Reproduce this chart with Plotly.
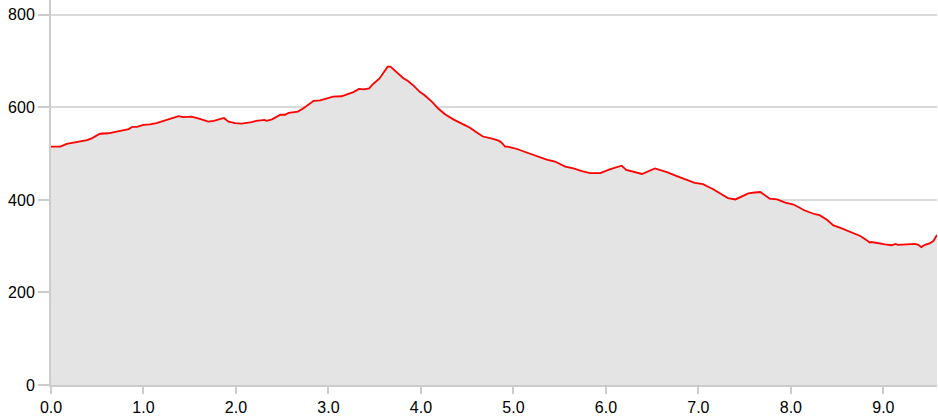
# Elevation profile: distance vs elevation, grey area with red outline

import plotly.graph_objects as go

# ============================================================
# Data
# ============================================================

distance = [
    0.00, 0.10, 0.17, 0.30, 0.39, 0.44, 0.53, 0.62, 0.67, 0.73,
    0.82, 0.84, 0.88, 0.93, 1.00, 1.07, 1.14, 1.21, 1.31, 1.38,
    1.43, 1.50, 1.52, 1.61, 1.70, 1.76, 1.81, 1.87, 1.92, 1.99,
    2.06, 2.13, 2.17, 2.22, 2.31, 2.33, 2.39, 2.48, 2.53, 2.57,
    2.62, 2.67, 2.73, 2.78, 2.84, 2.91, 2.96, 3.02, 3.05, 3.14,
    3.21, 3.27, 3.33, 3.38, 3.44, 3.48, 3.55, 3.59, 3.64, 3.67,
    3.74, 3.81, 3.86, 3.92, 3.99, 4.04, 4.12, 4.19, 4.26, 4.35,
    4.48, 4.53, 4.60, 4.67, 4.76, 4.84, 4.87, 4.91, 4.94, 5.04,
    5.12, 5.21, 5.27, 5.36, 5.45, 5.56, 5.65, 5.74, 5.83, 5.94,
    6.04, 6.17, 6.22, 6.30, 6.39, 6.53, 6.66, 6.76, 6.89, 6.96,
    7.05, 7.16, 7.25, 7.32, 7.40, 7.45, 7.54, 7.61, 7.67, 7.70,
    7.77, 7.85, 7.94, 8.03, 8.15, 8.26, 8.31, 8.39, 8.46, 8.53,
    8.64, 8.75, 8.82, 8.85, 8.87, 8.94, 9.02, 9.09, 9.13, 9.16,
    9.27, 9.34, 9.38, 9.41, 9.45, 9.50, 9.54, 9.58,
]

elevation = [
    515, 515, 521, 526, 529, 533, 543, 544, 546, 547,
    552, 553, 558, 558, 562, 563, 566, 570, 576, 581,
    579, 580, 580, 575, 569, 571, 573, 577, 569, 566,
    565, 566, 568, 571, 573, 571, 574, 584, 584, 588,
    589, 591, 598, 605, 614, 615, 618, 622, 623, 624,
    628, 633, 640, 639, 641, 650, 662, 674, 688, 688,
    676, 663, 657, 647, 633, 626, 612, 597, 585, 574,
    561, 556, 546, 537, 533, 528, 524, 515, 515, 510,
    504, 497, 494, 487, 483, 472, 468, 462, 458, 458,
    466, 474, 465, 460, 456, 468, 460, 452, 443, 437,
    434, 423, 412, 404, 401, 406, 414, 416, 417, 413,
    403, 401, 394, 390, 377, 369, 367, 357, 345, 340,
    331, 322, 313, 308, 309, 306, 304, 302, 305, 303,
    305, 305, 303, 298, 303, 306, 311, 324,
]

y_ticks = [0, 200, 400, 600, 800]
x_ticks = [0, 1, 2, 3, 4, 5, 6, 7, 8, 9]


# ============================================================
# Figure
# ============================================================

fig = go.Figure()

fig.add_trace(
    go.Scatter(
        x=distance,
        y=elevation,
        mode="lines",
        fill="tozeroy",
        fillcolor="#e4e4e4",
        line=dict(color="#ff0000", width=1.8),
        hoverinfo="x+y",
    )
)

fig.update_layout(
    width=938,
    height=419,
    margin=dict(l=51, r=1, t=0, b=34, autoexpand=False),
    paper_bgcolor="white",
    plot_bgcolor="white",
    showlegend=False,
    font=dict(family="Liberation Sans, Arial, sans-serif", size=16, color="#000000"),
)

fig.update_xaxes(
    range=[0, 9.58],
    tickvals=x_ticks,
    tickformat=".1f",
    showgrid=False,
    zeroline=False,
    showline=True,
    linecolor="#cccccc",
    linewidth=2,
    ticks="outside",
    ticklen=7,
    tickwidth=2,
    tickcolor="#cccccc",
    automargin=False,
)

fig.update_yaxes(
    range=[0, 832],
    tickvals=y_ticks,
    showgrid=True,
    gridcolor="#d9d9d9",
    gridwidth=2,
    zeroline=False,
    showline=True,
    linecolor="#cccccc",
    linewidth=2,
    ticks="outside",
    ticklen=11,
    tickwidth=2,
    tickcolor="#cccccc",
    automargin=False,
)

# the page's default body margin would shift the chart by 8px
fig.write_html(
    "out.html",
    config={"displayModeBar": False},
    post_script="document.body.style.margin='0';",
)
